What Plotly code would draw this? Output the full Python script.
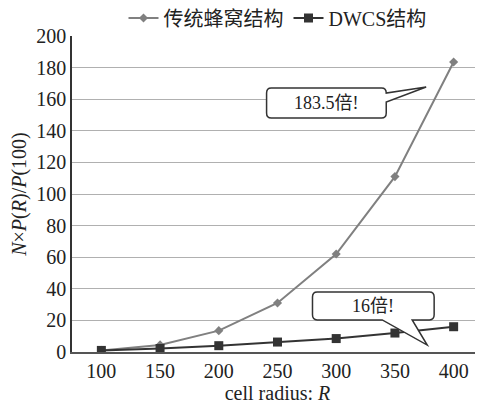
import plotly.graph_objects as go

radius = [100, 150, 200, 250, 300, 350, 400]
traditional = [1, 4.5, 13.5, 31, 62, 111, 183.5]
dwcs = [1, 2.2, 4, 6.3, 8.5, 12, 16]
series_names = ["传统蜂窝结构", "DWCS结构"]
callout_texts = ["183.5倍!", "16倍!"]

FONT = "Liberation Serif, Noto Sans CJK SC"

fig = go.Figure()
fig.add_trace(go.Scatter(
    x=radius, y=traditional, name=series_names[0], mode="lines+markers",
    line=dict(color="#808080", width=2),
    marker=dict(symbol="diamond", size=7, color="#808080"),
))
fig.add_trace(go.Scatter(
    x=radius, y=dwcs, name=series_names[1], mode="lines+markers",
    line=dict(color="#333333", width=2),
    marker=dict(symbol="square", size=9, color="#333333"),
))


def callout(x0, x1, y0, y1, tail, rx=4.0, ry=3.2):
    side, a, b, px, py = tail
    p = [f"M {x0+rx},{y1}", f"L {x1-rx},{y1}", f"Q {x1},{y1} {x1},{y1-ry}"]
    if side == "right":
        p += [f"L {x1},{a}", f"L {px},{py}", f"L {x1},{b}"]
    p += [f"L {x1},{y0+ry}", f"Q {x1},{y0} {x1-rx},{y0}"]
    if side == "bottom":
        p += [f"L {b},{y0}", f"L {px},{py}", f"L {a},{y0}"]
    p += [f"L {x0+rx},{y0}", f"Q {x0},{y0} {x0},{y0+ry}",
          f"L {x0},{y1-ry}", f"Q {x0},{y1} {x0+rx},{y1}", "Z"]
    return " ".join(p)


fig.add_shape(type="path", xref="x", yref="y",
              path=callout(240.7, 342.6, 148.1, 167.1, ("right", 163.9, 158.2, 376.6, 167.7)),
              fillcolor="white", line=dict(color="#333333", width=1.5), layer="above")
fig.add_shape(type="path", xref="x", yref="y",
              path=callout(279.8, 383.4, 20.3, 38.0, ("bottom", 339.2, 364.7, 377.5, 4.4)),
              fillcolor="white", line=dict(color="#333333", width=1.5), layer="above")

fig.add_annotation(x=291.6, y=157.6, xref="x", yref="y", text=callout_texts[0],
                   showarrow=False, font=dict(family=FONT, size=18, color="#222"))
fig.add_annotation(x=331.6, y=29.2, xref="x", yref="y", text=callout_texts[1],
                   showarrow=False, font=dict(family=FONT, size=18, color="#222"))

fig.update_layout(
    width=475, height=397,
    margin=dict(l=64, r=0, t=28, b=53, autoexpand=False),
    paper_bgcolor="white", plot_bgcolor="white",
    font=dict(family=FONT, size=20, color="#222"),
    showlegend=True,
    legend=dict(orientation="h", x=0.5, xanchor="center", xref="paper",
                y=1 - 10 / 397, yanchor="middle", yref="container",
                font=dict(size=20, family=FONT), itemwidth=30, tracegroupgap=0,
                borderwidth=0, bgcolor="rgba(0,0,0,0)"),
    xaxis=dict(
        range=[75, 425], tickvals=radius, ticktext=[str(r) for r in radius],
        tickfont=dict(family=FONT, size=20, color="#222"),
        showgrid=False, showline=True, linecolor="#555", linewidth=1.5,
        ticks="", zeroline=False, automargin=False,
        title=dict(text="cell radius: <i>R</i>", font=dict(family=FONT, size=20), standoff=4),
    ),
    yaxis=dict(
        range=[0, 200], tickvals=list(range(0, 201, 20)),
        tickfont=dict(family=FONT, size=20, color="#222"),
        showgrid=True, gridcolor="#b0b0b0", gridwidth=1, automargin=False,
        showline=True, linecolor="#333", linewidth=1.5, ticks="", zeroline=False,
        title=dict(text="<i>N</i>×<i>P</i>(<i>R</i>)/<i>P</i>(100)", font=dict(family=FONT, size=20), standoff=6),
    ),
)

fig.write_html("out.html")
